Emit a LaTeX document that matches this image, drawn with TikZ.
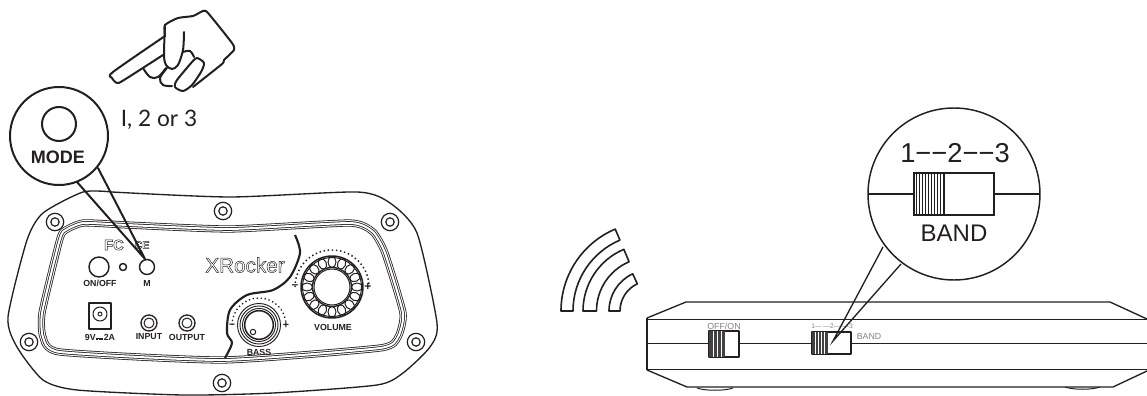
\documentclass[tikz,border=0pt]{standalone}
\usepackage{fontspec}
\setmainfont{Liberation Sans}
\newfontfamily\lato{Lato}
\usetikzlibrary{calc}
\newcommand{\fsz}[1]{\fontsize{#1}{#1}\selectfont}
\newcommand{\outl}[1]{\special{pdf:code 1 Tr 0.35 w}#1\special{pdf:code 0 Tr 1 w}}
\newcommand{\dcmark}{\kern0.5pt\raisebox{1.2pt}{\rlap{\rule{5pt}{0.5pt}}\raisebox{-1.3pt}{\rule{1.2pt}{0.5pt}\kern0.7pt\rule{1.2pt}{0.5pt}\kern0.7pt\rule{1.2pt}{0.5pt}}}\kern0.5pt}
\definecolor{ink}{HTML}{231F20}
\definecolor{lab}{HTML}{808285}
\tikzset{
  ln/.style={draw=ink,line width=0.75pt,line join=round},
  hv/.style={draw=ink,line width=1.5pt,line join=round,line cap=round},
  callout/.style={draw=ink,line width=1.5pt,fill=white},
  callthin/.style={draw=ink,line width=1.1pt,fill=white},
  paneltxt/.style={inner sep=0pt,font=\bfseries\fsz{6.6},text=ink},
  devtxt/.style={inner sep=0pt,font=\fsz{6.6},text=lab},
  screw/.pic={\draw[ln,line width=0.9pt] (0,0) circle[radius=8.7]; \draw[ln,line width=0.9pt] (0,0) circle[radius=4.2];}
}
\begin{document}
\begin{tikzpicture}[x=0.75pt,y=-0.75pt]
\useasboundingbox (0,0) rectangle (1147,396);
% ---------- hand
\draw[hv,line width=1.5pt,fill=white] plot[smooth,tension=0.45] coordinates {(165,36)(113,72)(112,78)(117,83)(124,80)(163,55)};
\draw[hv,line width=1.5pt] plot[smooth,tension=0.35] coordinates {(165,36)(165,25)(178,18)(193,16)(203,11)(208,13)(232,43)(234,50)(224,60)(222,64)(193,87)};
\draw[hv,line width=1.5pt] plot[smooth,tension=0.5] coordinates {(165,25)(164,55)(166,65)(172,69)(178,65)(183,50)(184,32)};
\draw[hv,line width=1.5pt] plot[smooth,tension=0.6] coordinates {(183,52)(190,51)(194,57)};
\draw[hv,line width=1.5pt] plot[smooth,tension=0.45] coordinates {(192,62)(197,58)(204,63)(201,72)(192,85)(183,91)(175,87)(177,80)(192,62)};
\draw[hv,line width=1.5pt] plot[smooth,tension=0.6] coordinates {(167,68)(160,78)(163,85)(172,86)};
\draw[hv,line width=1.5pt] plot[smooth,tension=0.6] coordinates {(143,68)(150,77)(158,77)(166,68)};
\node[inner sep=0pt,font=\lato\fsz{17},text=ink] (count) at (159,120) {I, 2 or 3};
% ---------- panel
\draw[ln,line width=1pt] plot[smooth,tension=0.4] coordinates {(112,192)(230,197)(357,192)(390,203)(417,233)(437,323)(430,347)(403,373)(377,385)(273,393)(183,395)(77,390)(43,380)(17,347)(8,317)(27,240)(43,213)(83,192)(112,192)};
\foreach \w/\c in {7.2/ink,5.6/white,3.6/ink,2/white}{
\draw[draw=\c,line width=\w*0.75pt] plot[smooth cycle,tension=0.32] coordinates {(127,225)(230,229)(350,223)(373,232)(385,253)(403,313)(398,337)(380,348)(223,360)(60,352)(43,337)(42,313)(57,250)(63,232)(83,223)};
}
\foreach \p in {(223,211),(55,222),(29,342),(222,383),(390,222),(416,342)}{\pic at \p {screw};}
% divider
\draw[ink,line width=1.6pt] plot[smooth,tension=0.5] coordinates {(295,235)(300,253)(290,277)(273,290)(247,295)(230,310)(227,333)(232,343)(225,358)};
% controls
\node[paneltxt,font=\bfseries\fsz{11}] (fc) at (114,245) {\outl{FC}};
\node[paneltxt,font=\bfseries\fsz{8}] (ce) at (142,245) {\outl{CE}};
\node[paneltxt,font=\fsz{15.5}] (brand) at (245,265) {\outl{XRocker}};
\draw[hv,line width=1.1pt] (99,267) circle[radius=10];
\draw[hv,line width=1.1pt] (123,267) circle[radius=3.5];
\draw[hv,line width=1.1pt] (147,267) circle[radius=7.5];
\node[paneltxt] (onoff) at (100,283) {ON/OFF};
\node[paneltxt] (m) at (147,283) {M};
\draw[hv,line width=1.1pt] (89,303) rectangle (111,329);
\draw[ln] (100,314) circle[radius=7];
\draw[ln] (100,314) circle[radius=2];
\node[paneltxt] (power) at (100,337) {9V\dcmark 2A};
\foreach \x in {149,187}{\draw[ln,line width=1pt] (\x,323) circle[radius=8]; \draw[ln] (\x,323) circle[radius=5];}
\node[paneltxt] (input) at (149,337) {INPUT};
\node[paneltxt] (output) at (187,337) {OUTPUT};
% volume
\draw[ln,line width=1.1pt] (332,287) circle[radius=31];
\draw[ln] (332,287) circle[radius=29.5];
\foreach \a in {0,22.5,...,337.5}{\draw[ln,shift={(332,287)},rotate=\a] (25,0) ellipse[x radius=5.5,y radius=4];}
\draw[ln,fill=white,line width=1pt] (332,287) circle[radius=19.5];
\draw[ln] (332,287) circle[radius=18];
\draw[ink,line width=1.1pt,dotted] (332,287) ++(-180:37) arc[start angle=-180,end angle=0,radius=37];
\node[paneltxt,font=\bfseries\fsz{9}] (vm) at (295,287) {–};
\node[paneltxt,font=\bfseries\fsz{9}] (vp) at (368,287) {+};
\node[paneltxt] (volume) at (333,327) {VOLUME};
% bass
\foreach \r in {21.5,19,16.5}{\draw[ln,line width=0.7pt] (259,325) circle[radius=\r];}
\draw[ln,line width=1.1pt] (259,325) circle[radius=14.3];
\draw[ln] (253,332) circle[radius=2.7];
\draw[ink,line width=1pt,dotted] (259,325) ++(-180:27) arc[start angle=-180,end angle=0,radius=27];
\node[paneltxt,font=\bfseries\fsz{8}] (bm) at (232,326) {–};
\node[paneltxt,font=\bfseries\fsz{8}] (bp) at (286,325) {+};
\node[paneltxt] (bass) at (259,352) {BASS};
% mode callout
\coordinate (mtip) at (145,259);
\coordinate (ml) at (77,182);
\coordinate (mr) at (98,168);
\draw[hv] (ml) -- (mtip) -- (mr);
\draw[callout] (59,136) circle[radius=49];
\draw[hv] (59,124) circle[radius=17];
\node[inner sep=0pt,font=\bfseries\fsz{13.5},text=ink] (mode) at (58,157) {MODE};
% ---------- radio arcs
\begin{scope}[shift={(650,311)}]
\foreach \ro/\ri/\e in {89/77/-113,67/53.5/-113,41/30/-115}{
\draw[hv,line width=1.2pt,line cap=butt,miter limit=2] (-180:\ro) arc[start angle=-180,end angle=\e,radius=\ro] -- (\e:\ri) arc[start angle=\e,end angle=-180,radius=\ri] -- cycle;}
\end{scope}
% ---------- device
\draw[ln,line width=1pt] (647,318) -- (686,302) -- (1110,302) -- (1147,319);
\draw[ln,line width=1pt] (647,370) -- (687,387) -- (1113,387) -- (1147,371);
\draw[ln,line width=1.2pt] (647,318) -- (647,370);
\draw[ln] (647,319) -- (1147,319);
\draw[ln] (647,343) -- (1147,343);
\draw[ln] (647,369) -- (1147,369);
\draw[ln] (697,388) .. controls (705,391) and (725,391) .. (733,388);
\draw[ln] (1065,387) .. controls (1073,390) and (1092,390) .. (1100,387);
% off/on switch
\draw[ln,fill=white,line width=1pt] (709,331) rectangle (739,357);
\fill[ink!85] (709,331) rectangle (725,357);
\foreach \x in {713,717,721}{\draw[white,line width=0.3pt] (\x,331) -- (\x,357);}
\node[devtxt] (offon) at (724,326) {OFF/ON};
% band switch
\draw[ln,fill=white,line width=1pt] (812,332) rectangle (851,354);
\fill[ink!85] (812,332) rectangle (828,354);
\foreach \x in {815,818,821,824}{\draw[white,line width=0.3pt] (\x,332) -- (\x,354);}
\node[devtxt,font=\fsz{5}] (scale) at (832,326) {1— —2— —3};
\node[devtxt] (bandsm) at (869,336) {BAND};
% band callout
\coordinate (btip) at (833,341);
\coordinate (bl) at (883,247);
\coordinate (br) at (901,264);
\draw[ink,line width=1pt] (bl) -- (btip) -- (br);
\draw[callthin] (954,194) circle[radius=86];
\coordinate (cl) at (868,194);
\coordinate (cr) at (1040,194);
\draw[ink,line width=1.1pt] (cl) -- (cr);
\draw[ink,line width=1.1pt,fill=white] (914,173) rectangle (994,215);
\foreach \x in {916,919,...,943}{\draw[ink,line width=0.75pt] (\x,173) -- (\x,215);}
\draw[ink,line width=1.1pt] (944,173) -- (944,215);
\node[inner sep=0pt,font=\fsz{20.5},text=ink] (nums) at (955,153) {1−−2−−3};
\node[inner sep=0pt,font=\fsz{18},text=ink] (band) at (954,233) {BAND};
\end{tikzpicture}
\end{document}
